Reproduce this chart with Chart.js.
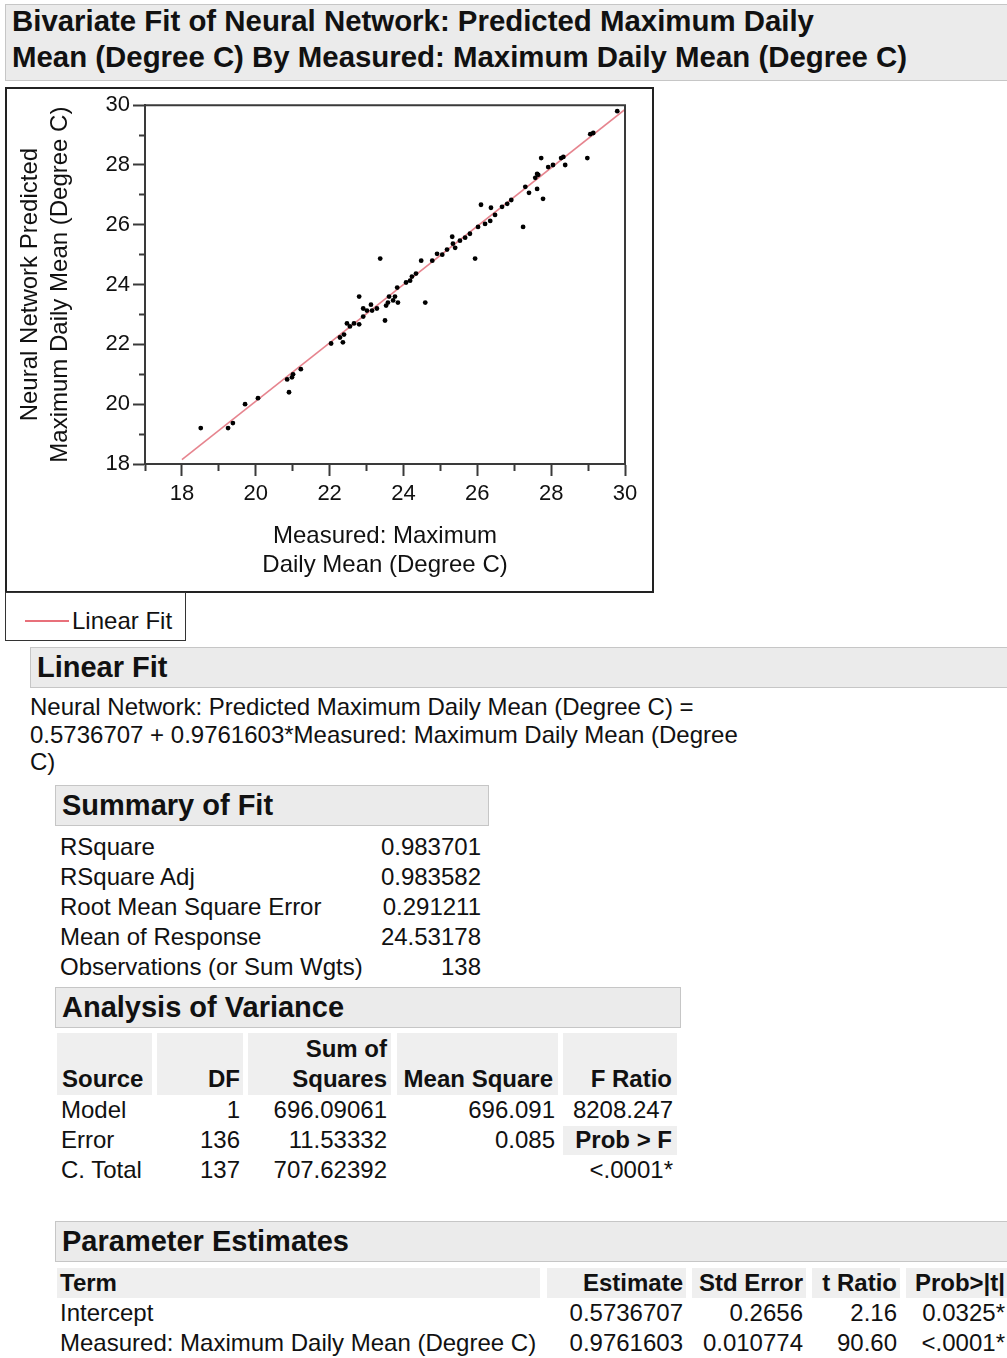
<!DOCTYPE html>
<html><head><meta charset="utf-8">
<script src="https://cdn.jsdelivr.net/npm/chart.js@4.4.1/dist/chart.umd.min.js"></script>
<style>
html,body{margin:0;padding:0;background:#fff;}
body{width:1007px;height:1358px;position:relative;overflow:hidden;font-family:'Liberation Sans',Arial,sans-serif;color:#111;font-size:24px;}
.abs{position:absolute;white-space:nowrap;}
.band{position:absolute;background:#ebebeb;border:1px solid #c6c6c6;box-sizing:border-box;}
.hdr{position:absolute;font-weight:bold;font-size:29px;white-space:nowrap;}
.cell{position:absolute;background:#efefef;}
.r{position:absolute;text-align:right;white-space:nowrap;line-height:30px;}
.l{position:absolute;white-space:nowrap;line-height:30px;}
.b{font-weight:bold;}
</style></head>
<body>
<div class="band" style="left:5px;top:4px;width:1004px;height:77px;"></div>
<div class="abs" style="left:12px;top:3px;font-weight:bold;font-size:29.4px;line-height:36px;">Bivariate Fit of Neural Network: Predicted Maximum Daily<br>Mean (Degree C) By Measured: Maximum Daily Mean (Degree C)</div>

<div style="position:absolute;left:5px;top:87px;width:649px;height:506px;border:2px solid #222;box-sizing:border-box;"></div>
<div style="position:absolute;left:7px;top:89px;width:645px;height:502px;"><canvas id="c" width="645" height="502"></canvas></div>

<div style="position:absolute;left:5px;top:592px;width:181px;height:49px;border:1px solid #333;box-sizing:border-box;"></div>
<div style="position:absolute;left:25px;top:620px;width:44px;height:2px;background:#e8707a;"></div>
<div class="l" style="left:72px;top:606px;">Linear Fit</div>

<div class="band" style="left:30px;top:647px;width:980px;height:41px;"></div>
<div class="hdr" style="left:37px;top:647px;line-height:41px;">Linear Fit</div>
<div class="abs" style="left:30px;top:693px;line-height:27.5px;">Neural Network: Predicted Maximum Daily Mean (Degree C) =<br>0.5736707 + 0.9761603*Measured: Maximum Daily Mean (Degree<br>C)</div>

<div class="band" style="left:55px;top:785px;width:434px;height:41px;"></div>
<div class="hdr" style="left:62px;top:785px;line-height:41px;">Summary of Fit</div>
<div class="l" style="left:60px;top:832px;">RSquare</div><div class="r" style="right:526px;top:832px;">0.983701</div>
<div class="l" style="left:60px;top:862px;">RSquare Adj</div><div class="r" style="right:526px;top:862px;">0.983582</div>
<div class="l" style="left:60px;top:892px;">Root Mean Square Error</div><div class="r" style="right:526px;top:892px;">0.291211</div>
<div class="l" style="left:60px;top:922px;">Mean of Response</div><div class="r" style="right:526px;top:922px;">24.53178</div>
<div class="l" style="left:60px;top:952px;">Observations (or Sum Wgts)</div><div class="r" style="right:526px;top:952px;">138</div>

<div class="band" style="left:55px;top:987px;width:626px;height:41px;"></div>
<div class="hdr" style="left:62px;top:987px;line-height:41px;">Analysis of Variance</div>
<div class="cell" style="left:57px;top:1033px;width:95px;height:62px;"></div>
<div class="cell" style="left:157px;top:1033px;width:86px;height:62px;"></div>
<div class="cell" style="left:248px;top:1033px;width:143px;height:62px;"></div>
<div class="cell" style="left:397px;top:1033px;width:161px;height:62px;"></div>
<div class="cell" style="left:563px;top:1033px;width:114px;height:62px;"></div>
<div class="cell" style="left:563px;top:1126px;width:114px;height:29px;"></div>
<div class="l b" style="left:62px;top:1064px;">Source</div>
<div class="r b" style="right:767px;top:1064px;">DF</div>
<div class="r b" style="right:620px;top:1034px;">Sum of</div>
<div class="r b" style="right:620px;top:1064px;">Squares</div>
<div class="r b" style="right:454px;top:1064px;">Mean Square</div>
<div class="r b" style="right:335px;top:1064px;">F Ratio</div>
<div class="l" style="left:61px;top:1095px;">Model</div>
<div class="r" style="right:767px;top:1095px;">1</div>
<div class="r" style="right:620px;top:1095px;">696.09061</div>
<div class="r" style="right:452px;top:1095px;">696.091</div>
<div class="r" style="right:334px;top:1095px;">8208.247</div>
<div class="l" style="left:61px;top:1125px;">Error</div>
<div class="r" style="right:767px;top:1125px;">136</div>
<div class="r" style="right:620px;top:1125px;">11.53332</div>
<div class="r" style="right:452px;top:1125px;">0.085</div>
<div class="r b" style="right:335px;top:1125px;">Prob &gt; F</div>
<div class="l" style="left:61px;top:1155px;">C. Total</div>
<div class="r" style="right:767px;top:1155px;">137</div>
<div class="r" style="right:620px;top:1155px;">707.62392</div>
<div class="r" style="right:334px;top:1155px;">&lt;.0001*</div>

<div class="band" style="left:55px;top:1221px;width:955px;height:41px;"></div>
<div class="hdr" style="left:62px;top:1221px;line-height:41px;">Parameter Estimates</div>
<div class="cell" style="left:57px;top:1268px;width:483px;height:30px;"></div>
<div class="cell" style="left:547px;top:1268px;width:139px;height:30px;"></div>
<div class="cell" style="left:692px;top:1268px;width:114px;height:30px;"></div>
<div class="cell" style="left:812px;top:1268px;width:88px;height:30px;"></div>
<div class="cell" style="left:906px;top:1268px;width:101px;height:30px;"></div>
<div class="l b" style="left:60px;top:1268px;">Term</div>
<div class="r b" style="right:324px;top:1268px;">Estimate</div>
<div class="r b" style="right:204px;top:1268px;">Std Error</div>
<div class="r b" style="right:110px;top:1268px;">t Ratio</div>
<div class="r b" style="right:2px;top:1268px;">Prob&gt;|t|</div>
<div class="l" style="left:60px;top:1298px;">Intercept</div>
<div class="r" style="right:324px;top:1298px;">0.5736707</div>
<div class="r" style="right:204px;top:1298px;">0.2656</div>
<div class="r" style="right:110px;top:1298px;">2.16</div>
<div class="r" style="right:2px;top:1298px;">0.0325*</div>
<div class="l" style="left:60px;top:1328px;">Measured: Maximum Daily Mean (Degree C)</div>
<div class="r" style="right:324px;top:1328px;">0.9761603</div>
<div class="r" style="right:204px;top:1328px;">0.010774</div>
<div class="r" style="right:110px;top:1328px;">90.60</div>
<div class="r" style="right:2px;top:1328px;">&lt;.0001*</div>

<script>
// Measured: Maximum Daily Mean (Degree C)
const measured = [18.51, 19.25, 19.38, 19.71, 20.06, 20.90, 20.85, 20.98, 21.01, 21.22,
  22.04, 22.28, 22.36, 22.39, 22.47, 22.55, 22.66, 22.80, 22.80, 22.91,
  22.91, 23.01, 23.12, 23.15, 23.28, 23.50, 23.53, 23.58, 23.61, 23.72,
  23.77, 23.83, 23.85, 24.07, 24.18, 24.23, 24.34, 24.48, 24.59, 24.78,
  24.91, 25.05, 25.18, 25.32, 25.34, 25.40, 25.53, 25.67, 25.80, 25.94,
  26.02, 26.10, 26.21, 26.35, 26.37, 26.48, 26.67, 26.81, 26.92, 27.24,
  27.30, 27.40, 27.57, 27.62, 27.65, 27.62, 27.78, 27.73, 27.92, 28.05,
  28.27, 28.33, 28.38, 28.98, 29.06, 29.14, 29.79, 23.37];
// Neural Network: Predicted Maximum Daily Mean (Degree C)
const predicted = [19.20, 19.20, 19.37, 20.00, 20.20, 20.40, 20.83, 20.90, 21.00, 21.17,
  22.03, 22.23, 22.07, 22.33, 22.70, 22.60, 22.70, 22.67, 23.60, 23.20,
  22.93, 23.13, 23.33, 23.13, 23.20, 22.80, 23.30, 23.40, 23.60, 23.47,
  23.60, 23.90, 23.40, 24.07, 24.13, 24.27, 24.37, 24.80, 23.40, 24.80,
  25.03, 25.00, 25.17, 25.60, 25.37, 25.23, 25.47, 25.57, 25.70, 24.87,
  25.93, 26.67, 26.03, 26.13, 26.57, 26.33, 26.60, 26.70, 26.83, 25.93,
  27.27, 27.07, 27.57, 27.70, 27.67, 27.20, 26.87, 28.23, 27.93, 28.00,
  28.23, 28.27, 28.00, 28.23, 29.03, 29.07, 29.80, 24.87];
// Linear fit endpoints (from 0.5736707 + 0.9761603*x)
const fitX = [18, 30];
const fitY = [18.1449, 29.8585];
const xTickValues = [17,18,19,20,21,22,23,24,25,26,27,28,29,30];
const xTickLabels = [18,20,22,24,26,28,30];
const yTickValues = [18,19,20,21,22,23,24,25,26,27,28,29,30];
const yTickLabels = [18,20,22,24,26,28,30];
const xTitle = ['Measured: Maximum', 'Daily Mean (Degree C)'];
const yTitle = ['Neural Network Predicted', 'Maximum Daily Mean (Degree C)'];

Chart.defaults.font.family = "'Liberation Sans', Arial, sans-serif";
Chart.defaults.color = '#111';

const boxPlugin = {
  id: 'box',
  afterDraw(chart) {
    const {ctx, chartArea: a} = chart;
    ctx.save();
    ctx.strokeStyle = '#3a3a3a';
    ctx.lineWidth = 2;
    ctx.beginPath();
    ctx.moveTo(a.left, a.top); ctx.lineTo(a.right, a.top); ctx.lineTo(a.right, a.bottom);
    ctx.stroke();
    ctx.restore();
  }
};

new Chart(document.getElementById('c'), {
  type: 'scatter',
  data: {
    datasets: [
      { label: 'Data', data: measured.map((x, i) => ({x, y: predicted[i]})),
        pointRadius: 2.4, pointBackgroundColor: '#000', pointBorderWidth: 0, order: 1 },
      { type: 'line', label: 'Linear Fit', data: fitX.map((x, i) => ({x, y: fitY[i]})),
        borderColor: 'rgba(226,110,122,0.85)', borderWidth: 1.6, pointRadius: 0, fill: false, order: 2 }
    ]
  },
  options: {
    responsive: false, animation: false, devicePixelRatio: 1,
    layout: { padding: { left: 0, top: 15, right: 27, bottom: 0 } },
    plugins: { legend: { display: false }, tooltip: { enabled: false } },
    scales: {
      x: {
        type: 'linear', min: 17, max: 30,
        afterBuildTicks: s => { s.ticks = xTickValues.map(v => ({value: v})); },
        afterFit: s => { s.height = 127; },
        ticks: { autoSkip: false, maxRotation: 0, padding: 5, font: { size: 22 },
          callback: v => xTickLabels.includes(v) ? String(v) : '' },
        grid: { drawOnChartArea: false, drawTicks: true, tickLength: 12, tickColor: '#3a3a3a', tickWidth: 2,
          tickBorderDash: c => (c.tick && !xTickLabels.includes(c.tick.value)) ? [6, 100] : [] },
        border: { display: true, color: '#3a3a3a', width: 2 },
        title: { display: true, text: xTitle, font: { size: 24, lineHeight: 29/24 }, padding: { top: 0, bottom: 11 }, color: '#111' }
      },
      y: {
        type: 'linear', min: 18, max: 30,
        afterBuildTicks: s => { s.ticks = yTickValues.map(v => ({value: v})); },
        afterFit: s => { s.width = 138; },
        ticks: { autoSkip: false, padding: 3, font: { size: 22 },
          callback: v => yTickLabels.includes(v) ? String(v) : '' },
        grid: { drawOnChartArea: false, drawTicks: true, tickLength: 12, tickColor: '#3a3a3a', tickWidth: 2,
          tickBorderDash: c => (c.tick && !yTickLabels.includes(c.tick.value)) ? [0, 6, 6, 100] : [] },
        border: { display: true, color: '#3a3a3a', width: 2 },
        title: { display: true, text: yTitle, font: { size: 24, lineHeight: 30/24 }, padding: { top: 8, bottom: 0 }, color: '#111' }
      }
    }
  },
  plugins: [boxPlugin]
});
</script>
</body></html>
